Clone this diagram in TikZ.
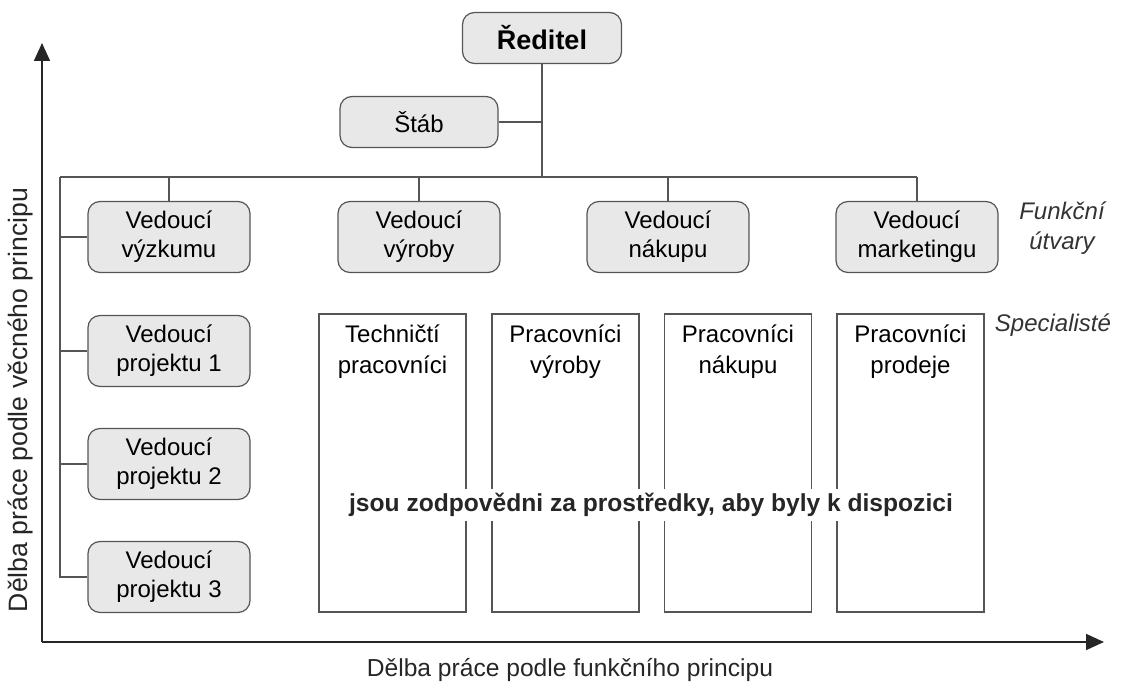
\documentclass[tikz,border=0pt]{standalone}
\usepackage{fontspec}
\setmainfont{Liberation Sans}
\usepackage{tikz}
\usetikzlibrary{positioning,arrows.meta,calc}
\usepackage{xcolor}
\definecolor{boxgray}{HTML}{E8E8E8}
\definecolor{linegray}{HTML}{555555}

\tikzset{
  unit/.style={draw=linegray, line width=0.6pt, fill=boxgray, rounded corners=6pt,
               minimum width=81pt, minimum height=35.5pt, align=center,
               font=\fontsize{12}{14.5}\selectfont, inner sep=1pt},
  spec/.style={draw=linegray, line width=0.6pt, minimum width=73.5pt, minimum height=149pt},
  spectext/.style={anchor=north, align=center, font=\fontsize{12}{15.5}\selectfont, inner sep=1pt},
  conn/.style={draw=linegray, line width=0.6pt},
  axis/.style={draw=black!85, line width=0.8pt, -{Triangle[length=9pt, width=8pt]}},
  side/.style={font=\fontsize{12}{15}\selectfont\itshape, align=center, text=black!80}
}

\begin{document}
\begin{tikzpicture}[x=0.5pt, y=-0.5pt]

  % Frame
  \useasboundingbox (0, 0) rectangle (1121, 684);

  % Top
  \node[unit, minimum width=79.5pt, minimum height=25.5pt, font=\fontsize{13.5}{16}\selectfont\bfseries] (dir) at (542, 38) {Ředitel};
  \node[unit, minimum width=79pt, minimum height=25.5pt] (stab) at (419, 122) {Štáb};

  % Functional units
  \node[unit] (vvyz) at (169, 237) {Vedoucí\\výzkumu};
  \node[unit] (vvyr) at (419, 237) {Vedoucí\\výroby};
  \node[unit] (vnak) at (668, 237) {Vedoucí\\nákupu};
  \node[unit] (vmark) at (917, 237) {Vedoucí\\marketingu};

  % Projects
  \node[unit] (p1) at (169, 351) {Vedoucí\\projektu 1};
  \node[unit] (p2) at (169, 464) {Vedoucí\\projektu 2};
  \node[unit] (p3) at (169, 577) {Vedoucí\\projektu 3};

  % Specialists
  \node[spec] (s1) at (392.5, 463) {};
  \node[spec] (s2) at (565.5, 463) {};
  \node[spec] (s3) at (738, 463) {};
  \node[spec] (s4) at (910.5, 463) {};
  \node[spectext] (t1) at ($(s1.north)+(0, 9)$) {Techničtí\\pracovníci};
  \node[spectext] (t2) at ($(s2.north)+(0, 9)$) {Pracovníci\\výroby};
  \node[spectext] (t3) at ($(s3.north)+(0, 9)$) {Pracovníci\\nákupu};
  \node[spectext] (t4) at ($(s4.north)+(0, 9)$) {Pracovníci\\prodeje};

  \node[fill=white, inner sep=2pt, font=\fontsize{12.3}{14}\selectfont\bfseries, text=black!85] (resp) at (651, 505) {jsou zodpovědni za prostředky, aby byly k dispozici};

  % Connectors
  \coordinate (busL) at (60, 177);
  \draw[conn] (dir.south) |- (stab.east);
  \draw[conn] (dir.south) -- (dir.south |- busL);
  \draw[conn] (busL) -- (busL -| vmark.north);
  \foreach \n in {vvyz, vvyr, vnak, vmark}
    \draw[conn] (\n.north) -- (\n.north |- busL);
  \draw[conn] (busL) |- (p3.west);
  \foreach \n in {vvyz, p1, p2}
    \draw[conn] (\n.west) -- (\n.west -| busL);

  % Side labels
  \node[side] (func) at (1062, 228) {Funkční\\útvary};
  \node[side] (specl) at (1053, 325) {Specialisté};

  % Axes
  \coordinate (orig) at (42, 642);
  \coordinate (ytip) at (42, 43);
  \coordinate (xtip) at (1104, 642);
  \draw[axis] (orig) -- (ytip);
  \draw[axis] (orig) -- (xtip);
  \node[font=\fontsize{12.3}{14}\selectfont, text=black!85] (xlab) at (570, 670) {Dělba práce podle funkčního principu};
  \node[font=\fontsize{13.3}{15}\selectfont, text=black!85, rotate=90] (ylab) at (20, 400) {Dělba práce podle věcného principu};

\end{tikzpicture}
\end{document}
